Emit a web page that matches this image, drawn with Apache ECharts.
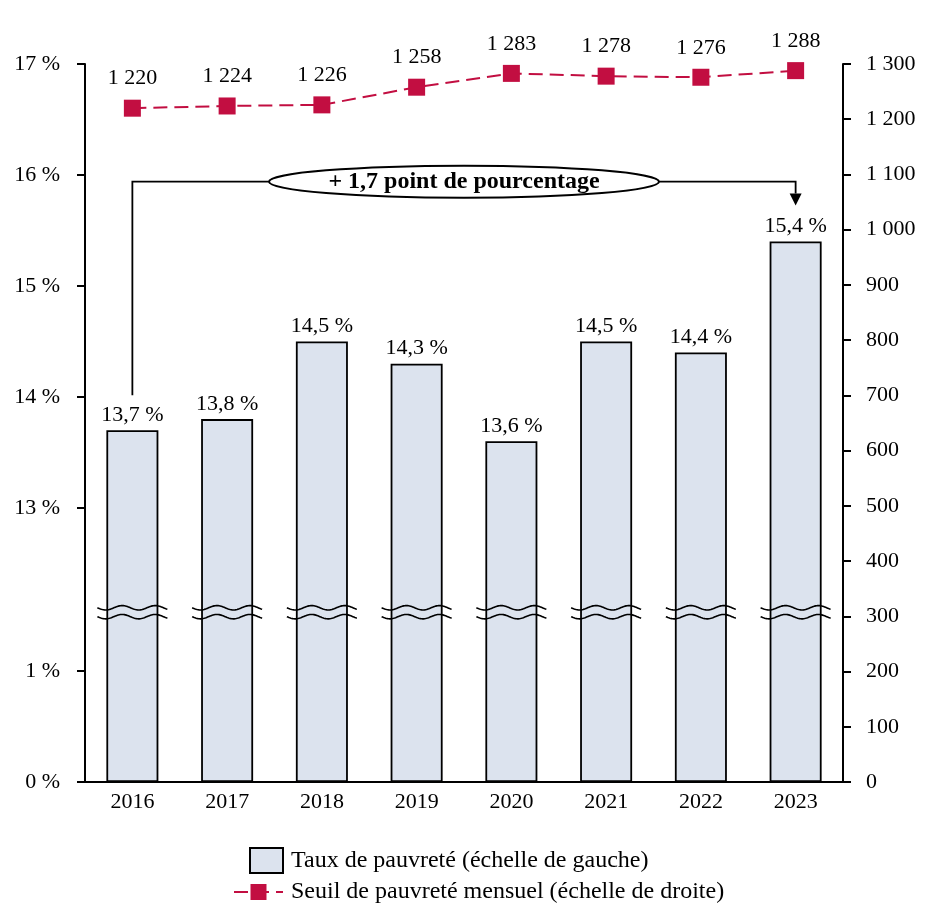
<!DOCTYPE html>
<html>
<head>
<meta charset="utf-8">
<script src="https://cdn.jsdelivr.net/npm/echarts@6/dist/echarts.min.js"></script>
<style>html,body{margin:0;padding:0;background:#fff}#c{width:936px;height:922px}</style>
</head>
<body>
<div id="c"></div>
<script>
// ---- data ----
const years = ['2016','2017','2018','2019','2020','2021','2022','2023'];
const tauxPauvrete = [13.7, 13.8, 14.5, 14.3, 13.6, 14.5, 14.4, 15.4];
const seuilMensuel = [1220, 1224, 1226, 1258, 1283, 1278, 1276, 1288];
const leftTicks = [0, 1, 13, 14, 15, 16, 17];
const annotationText = '+ 1,7 point de pourcentage';
const legendBar = 'Taux de pauvreté (échelle de gauche)';
const legendLine = 'Seuil de pauvreté mensuel (échelle de droite)';

// ---- broken left scale ----
const BREAK_AT = 1.5, OFFSET = 10.53;
const tf = v => v <= BREAK_AT ? v : v - OFFSET;
const inv = t => t <= BREAK_AT ? t : t + OFFSET;

const FONT = 'Liberation Serif';
const FS = 22;
const FS_LEG = 24;
const RED = '#C20E41';
const BAR = '#DCE3EE';

const fmtThousands = v => String(v).replace(/\B(?=(\d{3})+(?!\d))/g, ' ');
const fmtPct = v => v.toFixed(1).replace('.', ',') + ' %';

const chart = echarts.init(document.getElementById('c'), null, {renderer: 'canvas'});

chart.setOption({
  animation: false,
  textStyle: {fontFamily: FONT, color: '#000'},
  grid: {left: 85, right: 93, top: 64, bottom: 140, containLabel: false},
  xAxis: {
    type: 'category',
    data: years,
    axisLine: {lineStyle: {color: '#000', width: 2}},
    axisTick: {show: false},
    axisLabel: {fontFamily: FONT, fontSize: FS, color: '#000', margin: 9}
  },
  yAxis: [
    {
      type: 'value', position: 'left',
      min: 0, max: tf(17),
      splitLine: {show: false},
      axisLine: {show: true, lineStyle: {color: '#000', width: 2}},
      axisTick: {show: true, length: 8, lineStyle: {color: '#000', width: 2}, customValues: leftTicks.map(tf)},
      axisLabel: {
        fontFamily: FONT, fontSize: FS, color: '#000', margin: 25,
        customValues: leftTicks.map(tf),
        formatter: v => Math.round(inv(v)) + ' %'
      }
    },
    {
      type: 'value', position: 'right',
      min: 0, max: 1300, interval: 100,
      splitLine: {show: false},
      axisLine: {show: true, lineStyle: {color: '#000', width: 2}},
      axisTick: {show: true, length: 8, lineStyle: {color: '#000', width: 2}},
      axisLabel: {fontFamily: FONT, fontSize: FS, color: '#000', margin: 23, formatter: v => fmtThousands(v)}
    }
  ],
  legend: [
    {
      data: [{name: legendBar, icon: 'rect'}], left: 249, top: 847, orient: 'vertical', padding: 0,
      itemWidth: 33, itemHeight: 25, itemGap: 0,
      textStyle: {fontFamily: FONT, fontSize: FS_LEG, color: '#000', padding: [0, 0, 0, 3]}
    },
    {
      data: [legendLine], left: 233, top: 880, orient: 'vertical', padding: 0,
      itemWidth: 49, itemHeight: 20, itemGap: 0,
      textStyle: {fontFamily: FONT, fontSize: FS_LEG, color: '#000', padding: [0, 0, 0, 3]}
    }
  ],
  series: [
    {
      name: legendBar, type: 'bar', yAxisIndex: 0,
      data: tauxPauvrete.map(tf),
      barWidth: 52,
      itemStyle: {color: BAR, borderColor: '#000', borderWidth: 1.8},
      label: {
        show: true, position: 'top', distance: 4,
        fontFamily: FONT, fontSize: FS, color: '#000',
        formatter: p => fmtPct(tauxPauvrete[p.dataIndex])
      },
      z: 2
    },
    {
      name: legendLine, type: 'line', yAxisIndex: 1,
      data: seuilMensuel,
      symbol: 'rect', symbolSize: 17,
      itemStyle: {color: RED},
      lineStyle: {color: RED, width: 2, type: [14, 7]},
      label: {
        show: true, position: 'top', distance: 10,
        fontFamily: FONT, fontSize: FS, color: '#000',
        formatter: p => fmtThousands(p.value)
      },
      z: 3
    }
  ]
});

// ---- annotations tied to axes ----
function px(cat, t) { return chart.convertToPixel({xAxisIndex: 0, yAxisIndex: 0}, [cat, t]); }
const g = [];
const first = px(years[0], tf(tauxPauvrete[0]));
const last = px(years[years.length - 1], tf(tauxPauvrete[tauxPauvrete.length - 1]));
const yTop = px(years[0], tf(15.94))[1];
const midX = (px(years[3], 0)[0] + px(years[4], 0)[0]) / 2;
const rx = 195, ry = 16;
const yBottom = first[1] - 35;
const tip = last[1] - 36;
const ls = {stroke: '#000', lineWidth: 1.8, fill: null};
g.push({type: 'polyline', shape: {points: [[first[0], yBottom], [first[0], yTop], [midX - rx, yTop]]}, style: ls, z: 10});
g.push({type: 'polyline', shape: {points: [[midX + rx, yTop], [last[0], yTop], [last[0], tip - 12]]}, style: ls, z: 10});
g.push({type: 'polygon', shape: {points: [[last[0] - 6, tip - 12], [last[0] + 6, tip - 12], [last[0], tip]]}, style: {fill: '#000'}, z: 10});
g.push({type: 'ellipse', shape: {cx: midX, cy: yTop, rx: rx, ry: ry}, style: {fill: '#fff', stroke: '#000', lineWidth: 2}, z: 10});
g.push({type: 'text', x: midX, y: yTop, style: {text: annotationText, font: 'bold ' + FS_LEG + 'px "' + FONT + '"', fill: '#000', align: 'center', verticalAlign: 'middle'}, z: 11});

// ---- break marks on bars ----
const breakTs = [1.57, 1.49];
years.forEach(y => {
  breakTs.forEach(t => {
    const c = px(y, t);
    const pts = [];
    const half = 35, amp = 2.2, period = 33;
    for (let dx = -half; dx <= half; dx += 1) {
      pts.push([c[0] + dx, c[1] + amp * Math.sin((dx + half) / period * 2 * Math.PI)]);
    }
    g.push({type: 'polyline', shape: {points: pts}, style: {stroke: '#000', lineWidth: 1.6, fill: null}, z: 9});
  });
});
chart.setOption({graphic: g});
</script>
</body>
</html>
